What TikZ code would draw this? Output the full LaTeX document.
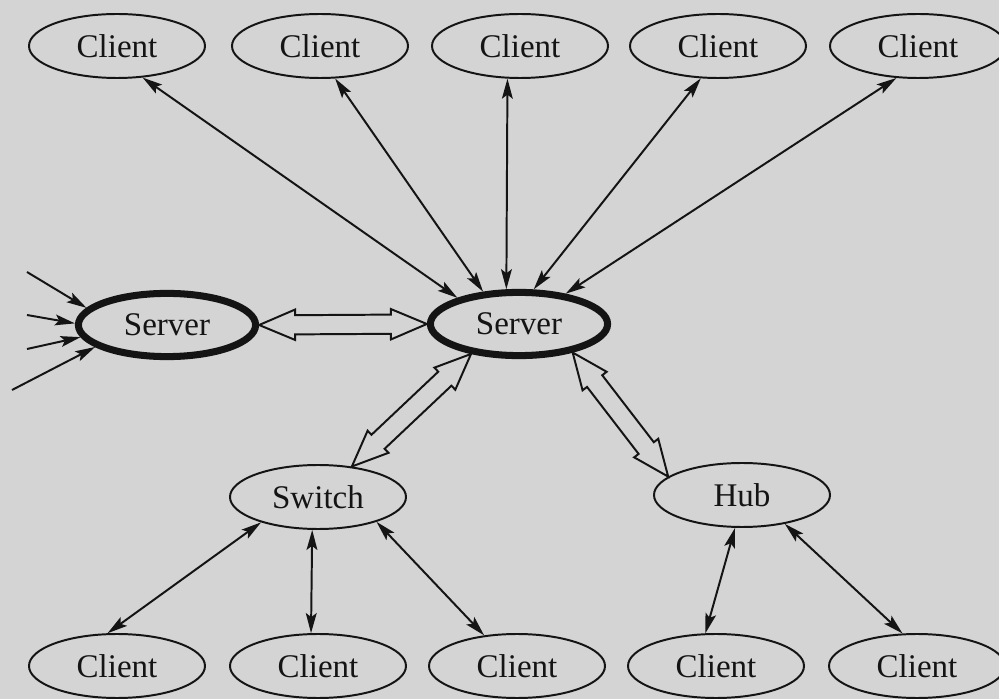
\documentclass[tikz,border=0pt]{standalone}
\usepackage{fontspec}
\setmainfont{Liberation Serif}
\usetikzlibrary{calc,arrows.meta,shapes.geometric}
\definecolor{paper}{gray}{0.83}
\definecolor{ink}{gray}{0.08}
\tikzset{
  Head/.tip={Stealth[length=5mm,width=2.7mm,inset=1mm]},
  client/.style={ellipse,draw=ink,text=ink,line width=1.4pt,minimum width=44mm,minimum height=16mm,inner sep=0pt,font=\fontsize{23.5}{28}\selectfont},
  server/.style={client,line width=5pt,minimum width=44.3mm,minimum height=15.8mm},
  link/.style={draw=ink,line width=1.4pt,Head-Head},
  feed/.style={draw=ink,line width=1.4pt,-Head},
  hollow/.style={draw=ink,line width=1.4pt,fill=paper,line join=miter}
}
\newcommand{\hollowlink}[2]{%
\draw[hollow] (#1) -- ($(#1)!9mm!(#2)!3.8mm!90:(#2)$) -- ($(#1)!9mm!(#2)!2.4mm!90:(#2)$)
  -- ($(#2)!9mm!(#1)!2.4mm!-90:(#1)$) -- ($(#2)!9mm!(#1)!3.8mm!-90:(#1)$) -- (#2)
  -- ($(#2)!9mm!(#1)!3.8mm!90:(#1)$) -- ($(#2)!9mm!(#1)!2.4mm!90:(#1)$)
  -- ($(#1)!9mm!(#2)!2.4mm!-90:(#2)$) -- ($(#1)!9mm!(#2)!3.8mm!-90:(#2)$) -- cycle;}
\begin{document}
\begin{tikzpicture}[x=0.25mm,y=-0.25mm]
\path[use as bounding box,fill=paper] (0,0) rectangle (999,699);
\foreach \i/\x in {1/117,2/320,3/520,4/718,5/918}{
\node[client] (cT\i) at (\x,46) {Client};
}
\foreach \i/\x in {1/117,2/318,3/517,4/716,5/917}{
\node[client] (cB\i) at (\x,666) {Client};
}
\node[server] (srvL) at (167,325) {Server};
\node[server] (srvC) at (519,324) {Server};
\node[client] (sw) at (318,497) {Switch};
\node[client] (hub) at (742,495) {Hub};
\coordinate (in1) at (27,272);
\coordinate (in2) at (27,315);
\coordinate (in3) at (27,349);
\coordinate (in4) at (12,390);
\foreach \i/\a/\b in {1/309/157,2/295/138,3/249/110,4/242/67,5/236/33}{
\draw[link] (cT\i.\a) -- (srvC.\b);
}
\foreach \i/\a in {1/168,2/179,3/188,4/197}{
\draw[feed] (in\i) -- (srvL.\a);
}
\draw[link] (sw.204) -- (cB1.106);
\draw[link] (sw.260) -- (cB2.102);
\draw[link] (sw.337) -- (cB3.137);
\draw[link] (hub.258) -- (cB4.108);
\draw[link] (hub.326) -- (cB5.114);
\hollowlink{srvL.east}{srvC.west}
\hollowlink{srvC.212}{sw.42}
\hollowlink{srvC.332}{hub.166}
\end{tikzpicture}
\end{document}
